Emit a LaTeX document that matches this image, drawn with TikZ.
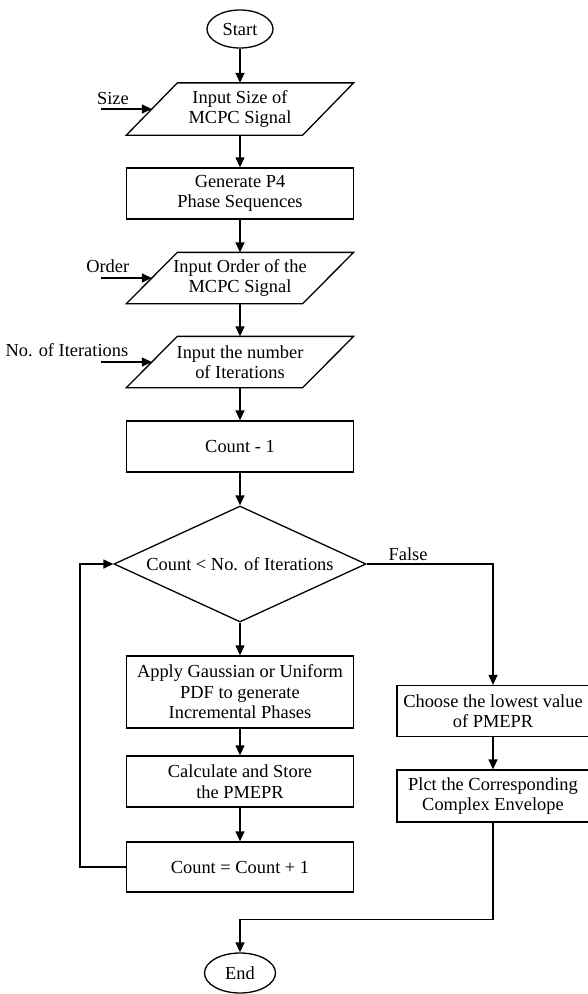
\documentclass[tikz,border=0pt]{standalone}
\usepackage{fontspec}
\setmainfont{Liberation Serif}
\usepackage {tikz}
\usetikzlibrary {positioning,shapes.geometric,arrows.meta}

\begin{document}
\begin{tikzpicture}[-{Triangle[length=10pt,width=9pt]}, x=1pt, y=-1pt,
line width=1.3pt, on grid,
font=\fontsize{18.4}{20.5}\selectfont,
terminal/.style ={ellipse, draw, inner sep=1pt, minimum height=38pt},
process/.style ={rectangle, draw, align=center, inner sep=2pt,
minimum width=227pt, minimum height=51pt},
inout/.style ={rectangle, align=center, inner sep=1pt,
minimum width=175pt, minimum height=51pt,
append after command={\pgfextra{\draw[-]
([xshift=25.5pt]\tikzlastnode.north west) -- ([xshift=25.5pt]\tikzlastnode.north east)
-- ([xshift=-25.5pt]\tikzlastnode.south east) -- ([xshift=-25.5pt]\tikzlastnode.south west)
-- cycle;}}},
inlabel/.style ={anchor=base east, inner sep=0pt},
decision/.style ={diamond, draw, aspect=2.2, inner sep=0pt,
minimum width=252pt, minimum height=116pt}]
\useasboundingbox (0,0) rectangle (587,994);
% main column
\node[terminal, minimum width=66pt] (start) at (240,29) {Start};
\node[inout] (insize) [below=80pt of start] {Input Size of\\MCPC Signal};
\node[process] (gen) [below=84.5pt of insize] {Generate P4\\Phase Sequences};
\node[inout, minimum height=50pt] (inorder) [below=84.5pt of gen] {Input Order of the\\MCPC Signal};
\node[inout, minimum height=50pt] (initer) [below=84pt of inorder] {Input the number\\of Iterations};
\node[process] (cnt1) [below=84.5pt of initer] {Count - 1};
\node[decision] (cond) [below=117.5pt of cnt1] {Count < No. of Iterations};
\node[process, minimum height=72pt] (apply) [below=128pt of cond]
{Apply Gaussian or Uniform\\PDF to generate\\Incremental Phases};
\node[process] (calc) [below=89.5pt of apply] {Calculate and Store\\the PMEPR};
\node[process, minimum height=50pt] (incr) [below=85.5pt of calc] {Count = Count + 1};
\node[terminal, minimum width=71pt, minimum height=40pt] (stop) [below=106pt of incr] {End};
% false branch
\node[process, minimum width=192pt] (choose) [below right=147pt and 253pt of cond]
{Choose the lowest value\\of PMEPR};
\node[process, minimum width=192pt, minimum height=52pt] (plot) [below=85pt of choose]
{Plct the Corresponding\\Complex Envelope};
% inputs
\coordinate[left=50.5pt of insize.west] (sizein);
\coordinate[left=51pt of inorder.west] (orderin);
\coordinate[left=51pt of initer.west] (iterin);
\node[inlabel] (sizelbl) at ([xshift=28pt,yshift=5pt]sizein) {Size};
\node[inlabel] (orderlbl) at ([xshift=29pt,yshift=6pt]orderin) {Order};
\node[inlabel] (iterlbl) at ([xshift=28pt,yshift=6pt]iterin) {No. of Iterations};
\path (sizein) edge (insize.west);
\path (orderin) edge (inorder.west);
\path (iterin) edge (initer.west);
% flow
\path (start) edge (insize);
\path (insize) edge (gen);
\path (gen) edge (inorder);
\path (inorder) edge (initer);
\path (initer) edge (cnt1);
\path (cnt1) edge (cond);
\path (cond) edge (apply);
\path (apply) edge (calc);
\path (calc) edge (incr);
\path (choose) edge (plot);
\coordinate[left=46pt of incr.west] (loopx);
\draw (incr.west) -- (loopx) |- (cond.west);
\draw (cond.east) -| node[pos=0.164, above, inner sep=3pt] (falselbl) {False} (choose.north);
\coordinate[above=33pt of stop.north] (join);
\draw (plot.south) |- (join) -- (stop.north);
\end{tikzpicture}
\end{document}
